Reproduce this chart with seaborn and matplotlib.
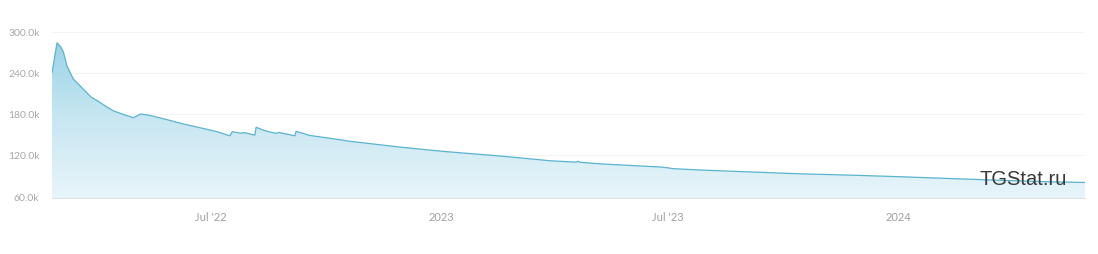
import numpy as np
import pandas as pd
import matplotlib
matplotlib.use("Agg")
import matplotlib.pyplot as plt
import matplotlib.dates as mdates
from matplotlib.colors import LinearSegmentedColormap
import seaborn as sns

# ---- data ----
dates = [
    "2022-02-24", "2022-02-26", "2022-02-28", "2022-03-01", "2022-03-03", "2022-03-05",
    "2022-03-08", "2022-03-13", "2022-03-19", "2022-03-27", "2022-04-04", "2022-04-09",
    "2022-04-14", "2022-04-24", "2022-04-30", "2022-05-06", "2022-05-14", "2022-05-26",
    "2022-06-09", "2022-06-23", "2022-07-06", "2022-07-16", "2022-07-18", "2022-07-24",
    "2022-07-28", "2022-08-05", "2022-08-06", "2022-08-13", "2022-08-22", "2022-08-24",
    "2022-09-06", "2022-09-07", "2022-09-18", "2022-10-04", "2022-10-20", "2022-11-29",
    "2023-01-01", "2023-01-08", "2023-02-17", "2023-03-29", "2023-04-19", "2023-04-20",
    "2023-04-22", "2023-05-08", "2023-06-25", "2023-07-01", "2023-07-05", "2023-07-27",
    "2023-09-05", "2023-10-15", "2023-11-24", "2024-01-01", "2024-02-12", "2024-03-22",
    "2024-05-01", "2024-05-29",
]
subscribers_k = [
    240.0, 262.0, 284.0, 282.0, 278.0, 271.0,
    250.0, 231.0, 220.0, 205.0, 196.0, 190.0,
    184.5, 178.0, 174.5, 180.0, 177.5, 172.0,
    165.3, 159.5, 154.0, 148.0, 154.0, 152.0,
    152.5, 149.0, 160.5, 155.5, 151.5, 153.0,
    148.0, 154.6, 148.5, 144.4, 140.0, 131.5,
    125.5, 124.4, 118.5, 111.5, 109.5, 110.8,
    109.3, 107.0, 102.4, 101.2, 100.0, 98.0,
    95.2, 92.4, 90.5, 88.3, 85.5, 83.0,
    80.8, 79.8,
]
y_ticks = [60, 120, 180, 240, 300]
y_tick_labels = ["60.0k", "120.0k", "180.0k", "240.0k", "300.0k"]
x_tick_dates = ["2022-07-01", "2023-01-01", "2023-07-01", "2024-01-01"]
x_tick_labels = ["Jul '22", "2023", "Jul '23", "2024"]
x_range = ["2022-02-24", "2024-05-29"]
y_range = [57.1, 300.5]

df = pd.DataFrame({"date": pd.to_datetime(dates), "value": subscribers_k})

sns.set_style("white")
plt.rcParams["font.family"] = ["Lato", "DejaVu Sans"]

W, H = 1098, 255
fig = plt.figure(figsize=(W / 100, H / 100), dpi=100)
ax = fig.add_axes([52 / W, (H - 199) / H, 1033 / W, 166.5 / H])

x0, x1 = [mdates.date2num(pd.Timestamp(d)) for d in x_range]
ax.set_xlim(x0, x1)
ax.set_ylim(*y_range)

# grid lines
for yt in y_ticks:
    ax.axhline(yt, color="#f4f4f4", lw=0.8, zorder=0)

# gradient fill under the curve
poly = ax.fill_between(df["date"], df["value"], y_range[0], color="none", lw=0)
cmap = LinearSegmentedColormap.from_list("g", ["#e8f5fa", "#c6e6f1", "#92d0e5"])
grad = np.linspace(0, 1, 256).reshape(-1, 1)
im = ax.imshow(grad, cmap=cmap, origin="lower", aspect="auto",
               extent=[x0, x1, y_range[0], 300], zorder=1)
im.set_clip_path(poly.get_paths()[0], transform=ax.transData)

sns.lineplot(data=df, x="date", y="value", ax=ax, color="#5ab4cf", lw=0.9, zorder=3)

ax.set_xlim(x0, x1)
ax.set_ylim(*y_range)
ax.set_xlabel("")
ax.set_ylabel("")

ax.set_yticks(y_ticks)
ax.set_yticklabels(y_tick_labels)
ax.set_xticks([mdates.date2num(pd.Timestamp(d)) for d in x_tick_dates])
ax.set_xticklabels(x_tick_labels)
ax.tick_params(axis="y", length=0, pad=9, labelsize=7.5, labelcolor="#a8a8a8")
ax.tick_params(axis="x", length=4.5, width=0.8, color="#d8d8d8", pad=5,
               labelsize=8, labelcolor="#a0a0a0", direction="out")

for s in ["top", "right", "left"]:
    ax.spines[s].set_visible(False)
ax.spines["bottom"].set_color("#e0e0e0")
ax.spines["bottom"].set_linewidth(0.8)

fig.text(1067 / W, (H - 180) / H, "TGStat.ru", ha="right", va="center",
         fontsize=14.5, color="#3a3a3a", family=["Liberation Sans", "DejaVu Sans"], zorder=10)

fig.savefig("out.png", dpi=100, facecolor="white")
